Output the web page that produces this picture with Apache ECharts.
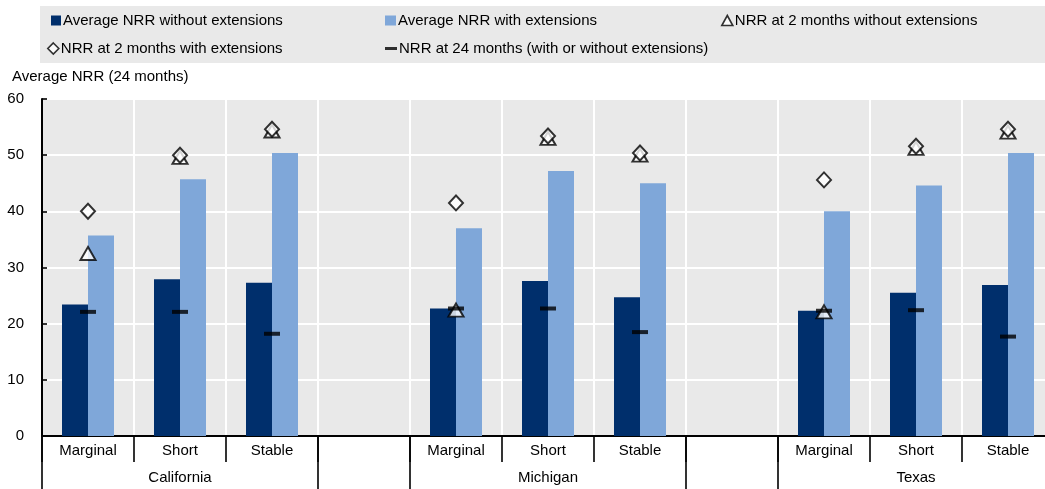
<!DOCTYPE html>
<html><head><meta charset="utf-8">
<script src="https://cdn.jsdelivr.net/npm/echarts@6/dist/echarts.min.js"></script>
<style>html,body{margin:0;padding:0;background:#fff;overflow:hidden}#c{width:1054px;height:489px}</style>
</head><body><div id="c"></div><script>
// ---- data ----
const categories = ['Marginal','Short','Stable','','Marginal','Short','Stable','','Marginal','Short','Stable'];
const groups = ['California','Michigan','Texas'];
const yTicks = [0,10,20,30,40,50,60];
const seriesNames = [
  'Average NRR without extensions',
  'Average NRR with extensions',
  'NRR at 2 months without extensions',
  'NRR at 2 months with extensions',
  'NRR at 24 months (with or without extensions)'
];
const avgWithout = [23.4, 27.9, 27.3, null, 22.7, 27.6, 24.7, null, 22.3, 25.5, 26.9];
const avgWith    = [35.7, 45.7, 50.4, null, 37.0, 47.2, 45.0, null, 40.0, 44.6, 50.4];
const at2Without = [32.5, 49.6, 54.3, null, 22.4, 53.0, 50.0, null, 22.1, 51.2, 54.1];
const at2With    = [40.0, 50.0, 54.6, null, 41.5, 53.4, 50.4, null, 45.6, 51.6, 54.6];
const at24       = [22.1, 22.1, 18.2, null, 22.7, 22.7, 18.5, null, 22.3, 22.4, 17.7];
const yTitle = 'Average NRR (24 months)';

// group boundaries derived from categories (empty category = gap)
const bounds = [], centers = [];
let start = null;
for (let i = 0; i <= categories.length; i++) {
  const empty = i === categories.length || categories[i] === '';
  if (!empty && start === null) start = i;
  if (empty && start !== null) { bounds.push(start, i); centers.push((start + i) / 2); start = null; }
}
const uniqBounds = [...new Set(bounds)];

const FONT = 'Liberation Sans, Arial, sans-serif';
const DARK = '#002F6C', LIGHT = '#7FA7D9', BG = '#E9E9E9';
const chart = echarts.init(document.getElementById('c'));
const markerStyle = {color:'#fff', borderColor:'#000', borderWidth:2};
const legMarkerStyle = {color:'#fff', borderColor:'#000', borderWidth:1.6};

function leg(name, left, top, extra) {
  return Object.assign({
    data:[name], left:left, top:top, padding:0, itemGap:0, selectedMode:false,
    textStyle:{fontFamily:FONT, fontSize:15, color:'#000', padding:[0,0,0,-3]}
  }, extra);
}

chart.setOption({
  animation:false,
  textStyle:{fontFamily:FONT},
  graphic:[
    {type:'rect', left:40, top:6, z:0, shape:{width:1014, height:57}, style:{fill:BG}},
    {type:'text', left:12, top:69, z:1, style:{text:yTitle, fontFamily:FONT, fontSize:15, fill:'#000'}}
  ],
  legend:[
    leg(seriesNames[0], 51, 13, {itemWidth:10, itemHeight:10, icon:'rect'}),
    leg(seriesNames[1], 385, 13, {itemWidth:11, itemHeight:10, icon:'rect'}),
    leg(seriesNames[2], 721, 13, {itemWidth:11, itemHeight:10, itemStyle:legMarkerStyle}),
    leg(seriesNames[3], 47, 41, {itemWidth:11, itemHeight:11, itemStyle:legMarkerStyle}),
    leg(seriesNames[4], 385, 41, {itemWidth:12, itemHeight:3, icon:'rect'})
  ],
  grid:{left:42, top:99, bottom:53, right:0, show:true, backgroundColor:BG, borderWidth:0},
  xAxis:[
    {type:'category', data:categories, position:'bottom',
     axisLine:{show:true, lineStyle:{color:'#000', width:2}},
     axisTick:{show:true, interval:0, length:26, lineStyle:{color:'#000', width:1.6}},
     axisLabel:{interval:0, margin:7, fontSize:15, color:'#000', fontFamily:FONT},
     splitLine:{show:true, interval:0, lineStyle:{color:'#fff', width:2}}
    },
    {type:'value', min:0, max:categories.length, position:'bottom',
     axisLine:{show:false}, splitLine:{show:false},
     axisTick:{show:true, customValues:uniqBounds, length:53, lineStyle:{color:'#000', width:1.6}},
     axisLabel:{customValues:centers, margin:34, fontSize:15, color:'#000', fontFamily:FONT,
       formatter:function(v){ const k = centers.indexOf(v); return k >= 0 ? groups[k] : ''; }}
    }
  ],
  yAxis:{type:'value', min:yTicks[0], max:yTicks[yTicks.length-1], interval:10,
    axisLine:{show:true, lineStyle:{color:'#000', width:2}},
    axisTick:{show:true, inside:true, length:5, lineStyle:{color:'#000', width:1.6}},
    axisLabel:{margin:18, fontSize:15, color:'#000', fontFamily:FONT},
    splitLine:{show:true, lineStyle:{color:'#fff', width:2}}
  },
  series:[
    {name:seriesNames[0], type:'bar', data:avgWithout, barWidth:26, barGap:'0%', itemStyle:{color:DARK}},
    {name:seriesNames[1], type:'bar', data:avgWith, barWidth:26, barGap:'0%', itemStyle:{color:LIGHT}},
    {name:seriesNames[2], type:'scatter', data:at2Without, symbol:'triangle', symbolSize:[15,13], itemStyle:markerStyle, z:3},
    {name:seriesNames[3], type:'scatter', data:at2With, symbol:'diamond', symbolSize:[14,15], itemStyle:markerStyle, z:4},
    {name:seriesNames[4], type:'scatter', data:at24, symbol:'rect', symbolSize:[16,4], itemStyle:{color:'#000'}, z:5}
  ]
});
</script></body></html>
